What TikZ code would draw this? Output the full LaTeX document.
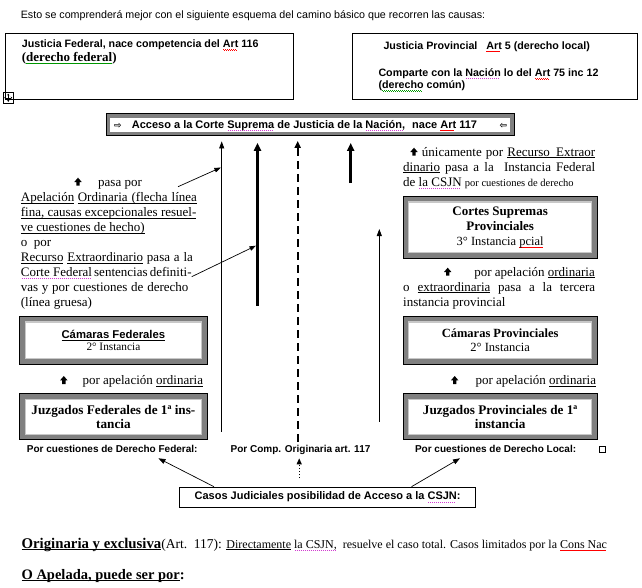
\documentclass[tikz,border=0pt]{standalone}
\usepackage{fontspec}
\setmainfont{Liberation Serif}
\newfontfamily\sans{Liberation Sans}
\newfontfamily\dv{DejaVu Sans}
\usetikzlibrary{arrows.meta}
\definecolor{framegray}{RGB}{128,128,128}
\definecolor{framelight}{RGB}{200,200,200}
\definecolor{sqgreen}{RGB}{0,150,0}
\definecolor{sqpurple}{RGB}{210,60,210}
\newcommand\ul[1]{\setbox0\hbox{#1}\rlap{\vrule width\wd0 height -1.4pt depth 2pt}\box0\relax}
\newcommand\us{\leaders\hrule height -1.4pt depth 2pt\hskip 3pt plus 6pt minus 1pt\relax}
\newcommand\wavebox{\hbox{\vrule width 1pt height -1.5pt depth 2.1pt\vrule width 1pt height -2.1pt depth 2.7pt}}
\newcommand\rsq[1]{\setbox0\hbox{#1}\rlap{\color{red}\leaders\wavebox\hskip\wd0\relax}\box0\relax}
\newcommand\gsq[1]{\setbox0\hbox{#1}\rlap{\color{sqgreen}\leaders\wavebox\hskip\wd0\relax}\box0\relax}
\newcommand\pdot[1]{\setbox0\hbox{#1}\rlap{\color{sqpurple}\leaders\hbox{\kern0.7pt\vrule width 0.6pt height -1.6pt depth 2.2pt\kern0.7pt}\hskip\wd0\relax}\box0\relax}
\tikzset{
  txt/.style={inner sep=0pt, anchor=base west},
  pbx/.style={draw=black, line width=0.9pt, fill=white, inner sep=0pt, anchor=north west},
  fbx/.style={draw=black, line width=0.9pt, fill=white, inner sep=0pt, anchor=north west,
    path picture={
      \draw[framegray, line width=10pt] (path picture bounding box.south west) rectangle (path picture bounding box.north east);
      \draw[framelight, line width=1.2pt] ([shift={(5.6pt,5.6pt)}]path picture bounding box.south west) rectangle ([shift={(-5.6pt,-5.6pt)}]path picture bounding box.north east);
    }},
  accbx/.style={draw=black, line width=0.9pt, fill=white, inner sep=0pt, anchor=north west,
    path picture={
      \draw[framegray, line width=7.5pt] (path picture bounding box.south west) rectangle (path picture bounding box.north east);
    }},
  thinln/.style={line width=0.8pt, -{Triangle[width=5pt,length=7pt]}},
  thickln/.style={line width=2.6pt, -{Triangle[width=7pt,length=8pt]}},
  dashln/.style={line width=1.8pt, dash pattern=on 8pt off 5pt, -{Triangle[width=6pt,length=7pt]}},
  dotln/.style={line width=1.2pt, dash pattern=on 1.5pt off 1.5pt, -{Triangle[width=5pt,length=6pt]}},
  upg/.pic={\fill[black] (-3.7,0.3) -- (0,-4) -- (3.7,0.3) -- (1.7,0.3) -- (1.7,4) -- (-1.7,4) -- (-1.7,0.3) -- cycle;},
  ser/.style={font=\fontsize{13}{15}\selectfont},
  boxsans/.style={font=\sans\bfseries\fontsize{10.7}{12}\selectfont},
  lab/.style={font=\sans\bfseries\fontsize{10}{12}\selectfont}
}
\begin{document}
\begin{tikzpicture}[x=1pt,y=-1pt]
\useasboundingbox (0,0) rectangle (642,587);
\fill[white] (0,0) rectangle (642,587);

% intro line
\node[txt, font=\sans\fontsize{10.7}{12}\selectfont] (intro) at (20.6,18.5) {Esto se comprenderá mejor con el siguiente esquema del camino básico que recorren las causas:};

% top boxes
\node[pbx, minimum width=288.3, minimum height=66.6] (fed) at (5,32.7) {};
\node[txt, boxsans] (fedA) at (21.7,47.5) {Justicia Federal, nace competencia del \rsq{Art} 116};
\node[txt, font=\bfseries\fontsize{13}{15}\selectfont] (fedB) at (21.7,61) {(\gsq{derecho federal})};

\node[draw, line width=0.6pt, minimum size=10.5, inner sep=0pt, anchor=north west] (handle) at (2.7,92.2) {};
\draw[line width=0.5pt, -{Stealth[length=1.6pt,width=2.2pt]}] (handle.center) -- ++(0,-4);
\draw[line width=0.5pt, -{Stealth[length=1.6pt,width=2.2pt]}] (handle.center) -- ++(0,4);
\draw[line width=0.5pt, -{Stealth[length=1.6pt,width=2.2pt]}] (handle.center) -- ++(4,0);
\draw[line width=0.5pt, -{Stealth[length=1.6pt,width=2.2pt]}] (handle.center) -- ++(-4,0);

\node[pbx, minimum width=285.6, minimum height=66.6] (prov) at (351.7,32.7) {};
\node[txt, boxsans] (provA) at (383.3,49) {Justicia Provincial\hspace{9pt}\rsq{Art} 5 (derecho local)};
\node[txt, boxsans] (provB) at (378.3,76.5) {Comparte con la \pdot{Nación} lo del \rsq{Art} 75 inc 12};
\node[txt, boxsans] (provC) at (378.3,88.5) {(\gsq{derecho} común)};

% Acceso box
\node[accbx, minimum width=407.6, minimum height=21.7] (acc) at (106,113.3) {};
\node[txt, font=\dv\bfseries\fontsize{9}{10}\selectfont] (accL) at (114,128) {⇨};
\node[txt, font=\sans\bfseries\fontsize{11}{12}\selectfont] (accT) at (131.7,128) {Acceso a la Corte \pdot{Suprema} de Justicia de la \pdot{Nación,}\hspace{4pt} nace \rsq{Art} 117};
\node[txt, font=\dv\bfseries\fontsize{9}{10}\selectfont] (accR) at (499.5,128) {⇦};

% left text block
\pic (g1) at (78,181.7) {upg};
\node[txt, ser] (lp0) at (98,186.5) {pasa por};
\node[txt, ser] (lp1) at (20.7,201.5) {\makebox[176pt][s]{\ul{Apelación} \ul{Ordinaria}\us\ul{(flecha}\us\ul{línea}}};
\node[txt, ser] (lp2) at (20.7,216.5) {\makebox[175.5pt][s]{\ul{fina,}\us\ul{causas}\us\ul{excepcionales}\us\ul{resuel-}}};
\node[txt, ser] (lp3) at (20.7,231.5) {\ul{ve cuestiones de hecho)}};
\node[txt, ser] (lp4) at (20.7,246.5) {o\ \ por};
\node[txt, ser] (lp5) at (20.7,261.5) {\makebox[172pt][s]{\ul{Recurso} \ul{Extraordinario} pasa a la}};
\node[txt, ser] (lp6) at (20.7,276.5) {\makebox[170.5pt][s]{\pdot{Corte Federal} sentencias definiti-}};
\node[txt, ser] (lp7) at (20.7,291.5) {\makebox[167.5pt][s]{vas y por cuestiones de derecho}};
\node[txt, ser] (lp8) at (20.7,306.5) {(línea gruesa)};

% right text block
\pic (g2) at (414,151.7) {upg};
\node[txt, ser] (rp1) at (421.7,156) {\makebox[173.3pt][s]{únicamente por \ul{Recurso}\us\ul{Extraor}}};
\node[txt, ser] (rp2) at (403,171) {\makebox[192pt][s]{\ul{dinario} pasa a la\ \ Instancia Federal}};
\node[txt, ser] (rp3) at (403,186.3) {de \pdot{la CSJN} {\fontsize{10.5}{12}\selectfont por cuestiones de derecho}};

\node[fbx, minimum width=194, minimum height=61.7, align=center, font=\fontsize{13}{15}\selectfont] (csp) at (402.7,196) {\textbf{Cortes Supremas}\\\textbf{Provinciales}\\{\fontsize{12.5}{14}\selectfont 3° Instancia \rsq{pcial}}};

\pic (g3) at (447.7,271.7) {upg};
\node[txt, ser, anchor=base east] (rp4) at (595,276) {por apelación \ul{ordinaria}};
\node[txt, ser] (rp5) at (403,291) {\makebox[192pt][s]{o \ul{extraordinaria} pasa a la tercera}};
\node[txt, ser] (rp6) at (403,306) {instancia provincial};

% lower boxes
\node[fbx, minimum width=187.3, minimum height=48, align=center, font=\fontsize{11.3}{12}\selectfont] (cf) at (19.3,316) {{\sans\bfseries\ul{Cámaras Federales}}\\2° Instancia};
\pic (g4) at (63.8,380) {upg};
\node[txt, ser] (lpa) at (82.3,384.5) {por apelación \ul{ordinaria}};
\node[fbx, minimum width=187.3, minimum height=46, align=center, font=\bfseries\fontsize{13.2}{14}\selectfont] (jf) at (19.3,393.3) {Juzgados Federales de 1ª ins-\\tancia};

\node[fbx, minimum width=194, minimum height=48, align=center, font=\fontsize{12.5}{14.4}\selectfont] (cp) at (402.7,316) {\textbf{Cámaras Provinciales}\\2° Instancia};
\pic (g5) at (454.7,380) {upg};
\node[txt, ser] (rpa) at (475.3,384.5) {por apelación \ul{ordinaria}};
\node[fbx, minimum width=194, minimum height=46, align=center, font=\bfseries\fontsize{13.2}{14}\selectfont] (jp) at (402.7,393.3) {Juzgados Provinciales de 1ª\\instancia};

% labels
\node[txt, lab] (lf) at (26.7,452) {Por cuestiones de Derecho Federal:};
\node[txt, lab] (lm) at (230.5,452) {Por Comp. Originaria art. 117};
\node[txt, lab] (ll) at (414.8,452) {Por cuestiones de Derecho Local:};
\node[draw, line width=0.6pt, minimum size=6, inner sep=0pt] (sq) at (602,449.5) {};

% casos box
\node[pbx, minimum width=296.3, minimum height=19.8, font=\sans\bfseries\fontsize{11}{12}\selectfont] (casos) at (179,486.7) {Casos Judiciales posibilidad de Acceso a la \pdot{CSJN}:};

% bottom text
\node[txt] (orig) at (21.4,548) {{\bfseries\fontsize{14.8}{16}\selectfont\ul{Originaria y exclusiva}}{\fontsize{13.5}{16}\selectfont(Art.\ \ 117): }{\fontsize{12}{13}\selectfont\ul{Directamente} \pdot{la CSJN,}\ \ resuelve el caso total. Casos limitados por la \rsq{Cons Nac}}};
\node[txt, font=\bfseries\fontsize{14.5}{16}\selectfont] (apel) at (21.4,579) {\ul{O Apelada, puede ser por}:};

% vertical arrows to the Corte Suprema box
\coordinate (a1s) at (221.7,431.7);
\coordinate (a2s) at (257.5,305.5);
\coordinate (a3s) at (297.7,441.7);
\coordinate (a4s) at (350.7,183);
\coordinate (a5s) at (379.3,421.7);
\coordinate (a5e) at (379.3,229);
\draw[thinln, shorten >=5.5pt] (a1s) -- (a1s |- acc.south);
\draw[thickln, shorten >=7pt] (a2s) -- (a2s |- acc.south);
\draw[dashln, shorten >=5pt] (a3s) -- (a3s |- acc.south);
\draw[thickln, shorten >=7pt] (a4s) -- (a4s |- acc.south);
\draw[thinln] (a5s) -- (a5e);

% diagonal arrows from left text
\coordinate (d1s) at (178,186.7);
\coordinate (d1e) at (220.9,167.5);
\coordinate (d2s) at (191.7,276.7);
\coordinate (d2e) at (256,245.7);
\draw[line width=0.7pt, -{Triangle[width=4.5pt,length=6.5pt]}] (d1s) -- (d1e);
\draw[line width=0.7pt, -{Triangle[width=4.5pt,length=6.5pt]}] (d2s) -- (d2e);

% arrows from casos box
\coordinate (cl) at (158.4,458.3);
\coordinate (cr) at (460,458.3);
\coordinate (cds) at (299.2,478);
\coordinate (cde) at (299.2,458.3);
\draw[line width=0.7pt, -{Triangle[width=5pt,length=7pt]}] ([xshift=35pt]casos.north west) -- (cl);
\draw[line width=0.7pt, -{Triangle[width=5pt,length=7pt]}] ([xshift=232.5pt]casos.north west) -- (cr);
\draw[dotln] (cds) -- (cde);
\end{tikzpicture}
\end{document}
